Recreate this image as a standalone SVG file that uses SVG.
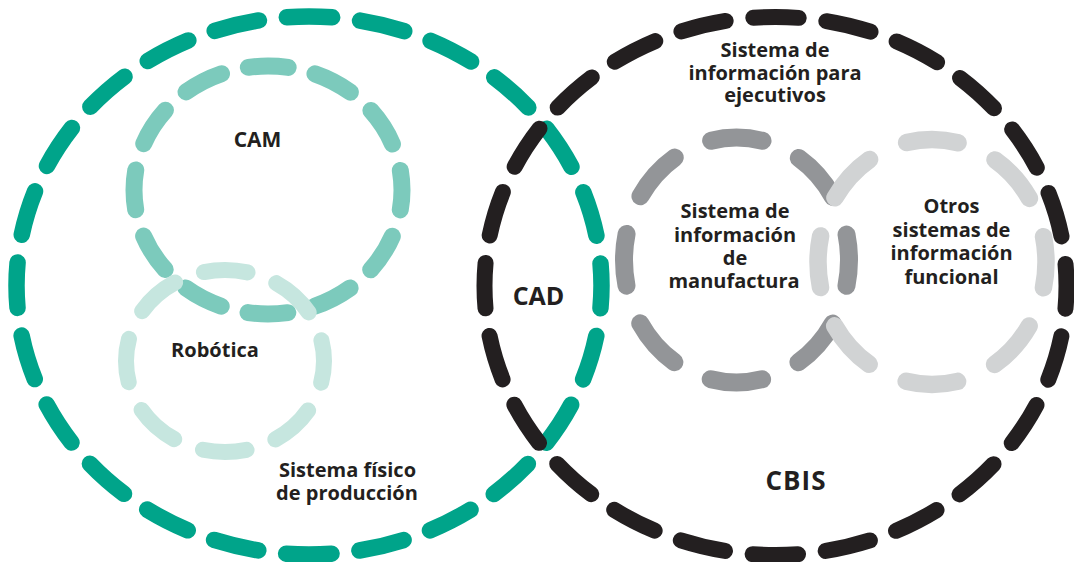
<svg xmlns="http://www.w3.org/2000/svg" width="1074" height="562" viewBox="0 0 1074 562">
  <style>
    .ring { fill: none; stroke-linecap: round; }
    .lbl { font-family: "Open Sans", "Liberation Sans", sans-serif; font-weight: 700; fill: #231f20; text-anchor: middle; font-size: 20px; }
    .big { font-size: 25px; }
  </style>
  <rect x="0" y="0" width="1074" height="562" fill="#ffffff"/>
  <g id="sistema-fisico">
    <ellipse class="ring" cx="309" cy="285.5" rx="292.5" ry="269" stroke="#00a48a" stroke-width="16.5" stroke-dasharray="45.5 28.03" stroke-dashoffset="22.75"/>
    <text class="lbl" x="347.5" y="477">Sistema físico</text>
    <text class="lbl" x="347" y="500">de producción</text>
  </g>
  <g id="cbis">
    <ellipse class="ring" cx="775.5" cy="286" rx="291" ry="269" stroke="#231f20" stroke-width="16" stroke-dasharray="45.5 27.83" stroke-dashoffset="22.75"/>
    <text class="lbl big" x="796" y="490" font-size="26" style="font-size:26px" letter-spacing="1">CBIS</text>
  </g>
  <g id="cam">
    <ellipse class="ring" cx="268" cy="190" rx="134" ry="124" stroke="#7ccabc" stroke-width="17" stroke-dasharray="40 27.57" stroke-dashoffset="20"/>
    <text class="lbl" x="257.5" y="147" style="font-size:21px">CAM</text>
  </g>
  <g id="robotica">
    <ellipse class="ring" cx="225" cy="361" rx="99" ry="91" stroke="#c6e6df" stroke-width="16" stroke-dasharray="44 30.65" stroke-dashoffset="22"/>
    <text class="lbl" x="215" y="357">Robótica</text>
  </g>
  <g id="cad">
    <text class="lbl big" x="538.5" y="305">CAD</text>
  </g>
  <g id="sim">
    <ellipse class="ring" cx="736.5" cy="260" rx="112.5" ry="122.5" stroke="#939598" stroke-width="18" stroke-dasharray="52 40.32" stroke-dashoffset="26"/>
    <text class="lbl" x="735" y="218">Sistema de</text>
    <text class="lbl" x="735" y="241.5">información</text>
    <text class="lbl" x="735" y="265">de</text>
    <text class="lbl" x="734" y="288">manufactura</text>
  </g>
  <g id="otros">
    <ellipse class="ring" cx="932" cy="262" rx="114" ry="122.5" stroke="#d1d3d4" stroke-width="17.5" stroke-dasharray="52 40.9" stroke-dashoffset="26"/>
    <text class="lbl" x="951.5" y="213">Otros</text>
    <text class="lbl" x="951.5" y="236.5">sistemas de</text>
    <text class="lbl" x="951.5" y="260">información</text>
    <text class="lbl" x="951.5" y="283.5">funcional</text>
  </g>
  <g id="sie">
    <text class="lbl" x="775" y="57">Sistema de</text>
    <text class="lbl" x="775" y="79.5">información para</text>
    <text class="lbl" x="775" y="102">ejecutivos</text>
  </g>
  <g id="connectors"/>
</svg>
